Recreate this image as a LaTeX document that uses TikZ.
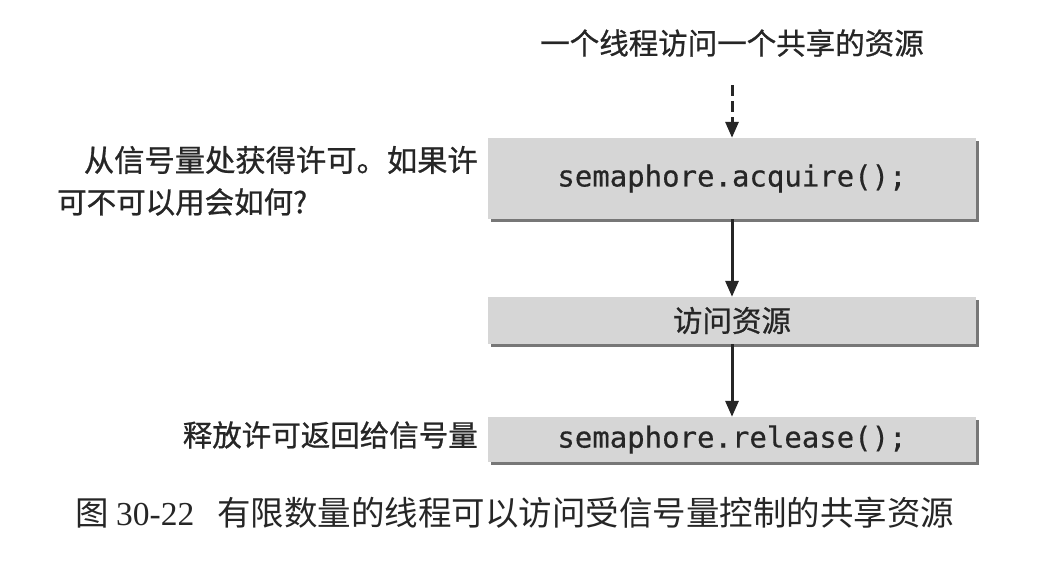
\documentclass[tikz,border=0pt]{standalone}
\usepackage{fontspec}
\newfontfamily\cjk[FakeBold=0.8]{Noto Sans CJK SC}
\newfontfamily\cjkcap{Noto Sans CJK SC}
\newfontfamily\code[FakeBold=0.5]{DejaVu Sans Mono}
\newfontfamily\capnum{Liberation Serif}
\usetikzlibrary{arrows.meta,shadows}
\definecolor{ink}{HTML}{262626}
\definecolor{boxfill}{HTML}{D6D6D6}
\definecolor{boxshade}{HTML}{777777}
\tikzset{
  procbox/.style={draw=none, fill=boxfill, minimum width=488pt, inner sep=0pt,
    drop shadow={shadow xshift=3pt, shadow yshift=-3pt, fill=boxshade, opacity=1},
    text=ink},
  codetext/.style={font=\code\fontsize{29}{34}\selectfont},
  cjktext/.style={font=\cjk\fontsize{29.5}{34}\selectfont, text=ink, inner sep=0pt},
  flow/.style={-{Triangle[length=16pt,width=13pt]}, line width=3pt, draw=ink},
  dashflow/.style={flow, dash pattern=on 11pt off 5pt}
}
\begin{document}
\begin{tikzpicture}[x=1pt,y=-1pt]
\useasboundingbox (0,0) rectangle (1059,562);
\fill[white] (0,0) rectangle (1059,562);
% boxes
\node[procbox, codetext, minimum height=81pt] (acq) at (732,178.5) {semaphore.acquire();};
\node[procbox, cjktext, minimum height=47pt, inner sep=0pt] (use) at (732,320.5) {访问资源};
\node[procbox, codetext, minimum height=45pt] (rel) at (732,439.5) {semaphore.release();};
% top label
\node[cjktext] (thread) at (732,43) {一个线程访问一个共享的资源};
\coordinate (dstart) at (732,85);
\draw[dashflow] (dstart) -- (acq.north);
\draw[flow] (acq.south) -- (use.north);
\draw[flow] (use.south) -- (rel.north);
% left notes
\node[cjktext, anchor=east, font=\cjk\fontsize{30.3}{34}\selectfont] (noteA) at (478,160) {从信号量处获得许可。如果许};
\node[cjktext, anchor=west] (noteB) at (57,202) {可不可以用会如何?};
\node[cjktext, anchor=east] (noteC) at (478,435) {释放许可返回给信号量};
% caption
\node[cjktext, anchor=west, font=\cjkcap\fontsize{33.5}{38}\selectfont] (cap) at (75,513)
  {图 {\capnum 30-22}\hspace{23pt}有限数量的线程可以访问受信号量控制的共享资源};
\end{tikzpicture}
\end{document}
